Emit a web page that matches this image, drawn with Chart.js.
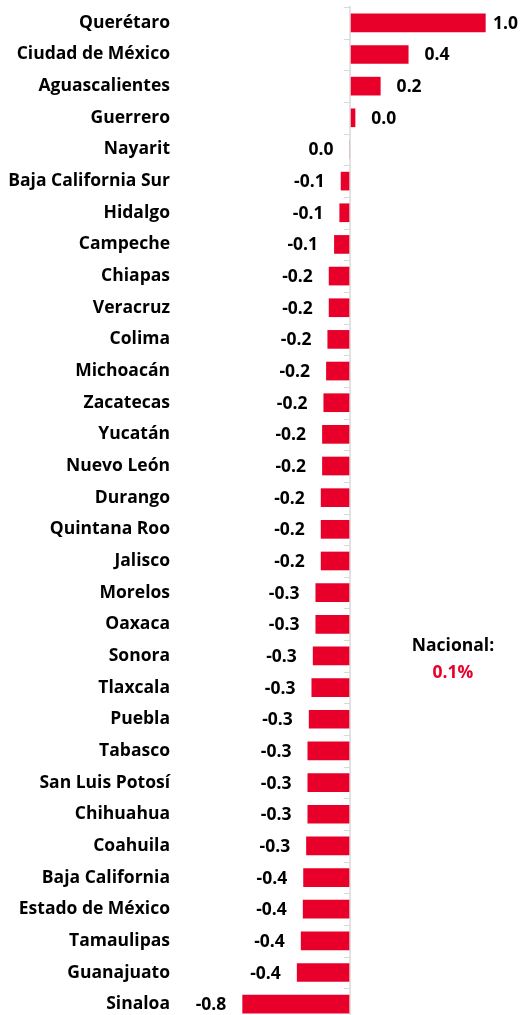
<!DOCTYPE html>
<html lang="es">
<head>
<meta charset="utf-8">
<title>Variación por entidad federativa</title>
<script src="https://cdn.jsdelivr.net/npm/chart.js@4.4.1/dist/chart.umd.min.js"></script>
<style>
  html, body { margin: 0; padding: 0; overflow: hidden; background: #fff; }
  #wrap { position: relative; width: 520px; height: 1020px; }
  #nacional {
    position: absolute; left: 393px; top: 631px; width: 120px;
    text-align: center; font: 700 17.5px "Open Sans", sans-serif; line-height: 27px; color: #000;
  }
  #nacional .val { color: #e8002b; }
</style>
</head>
<body>
<div id="wrap">
  <canvas id="chart" width="520" height="1020"></canvas>
  <div id="nacional">Nacional:<br><span class="val" id="nacVal"></span></div>
</div>
<script>
// data (labels show one decimal)
const estados = [
  'Querétaro', 'Ciudad de México', 'Aguascalientes', 'Guerrero', 'Nayarit',
  'Baja California Sur', 'Hidalgo', 'Campeche', 'Chiapas', 'Veracruz',
  'Colima', 'Michoacán', 'Zacatecas', 'Yucatán', 'Nuevo León',
  'Durango', 'Quintana Roo', 'Jalisco', 'Morelos', 'Oaxaca',
  'Sonora', 'Tlaxcala', 'Puebla', 'Tabasco', 'San Luis Potosí',
  'Chihuahua', 'Coahuila', 'Baja California', 'Estado de México', 'Tamaulipas',
  'Guanajuato', 'Sinaloa'
];
const valores = [
  1.02, 0.44, 0.23, 0.04, -0.004,
  -0.07, -0.08, -0.12, -0.16, -0.16,
  -0.17, -0.18, -0.20, -0.21, -0.21,
  -0.22, -0.22, -0.22, -0.26, -0.26,
  -0.28, -0.29, -0.31, -0.32, -0.32,
  -0.32, -0.33, -0.352, -0.355, -0.37,
  -0.40, -0.81
];
const nacional = 0.1;
const ejeMin = -0.82;
const ejeMax = 1.03;

const rojo = '#e8002b';
const gris = '#d9d9d9';
const fuente = '"Open Sans", sans-serif';

document.getElementById('nacVal').textContent = nacional.toFixed(1) + '%';

function fmt(v) {
  const s = v.toFixed(1);
  return s === '-0.0' ? '0.0' : s;
}

// zero axis line, category tick marks and value labels
const extras = {
  id: 'extras',
  afterDatasetsDraw(chart) {
    const ctx = chart.ctx;
    const area = chart.chartArea;
    const x0 = chart.scales.x.getPixelForValue(0);
    const paso = (area.bottom - area.top) / estados.length;

    ctx.save();
    ctx.strokeStyle = gris;
    ctx.lineWidth = 1.5;
    ctx.beginPath();
    ctx.moveTo(x0, area.top - 1);
    ctx.lineTo(x0, chart.height);
    ctx.stroke();
    ctx.lineWidth = 1;
    for (let i = 0; i <= estados.length; i++) {
      const y = Math.round(area.top + i * paso) + 0.5;
      ctx.beginPath();
      ctx.moveTo(x0 - 6, y);
      ctx.lineTo(x0, y);
      ctx.stroke();
    }

    ctx.font = '700 17.5px ' + fuente;
    ctx.fillStyle = '#000';
    ctx.textBaseline = 'middle';
    const meta = chart.getDatasetMeta(0);
    meta.data.forEach((bar, i) => {
      const v = valores[i];
      const txt = fmt(v);
      const w = ctx.measureText(txt).width;
      const y = bar.y + 1;
      if (v >= 0) {
        let x = bar.x + 16;
        if (x + w > chart.width - 2) x = chart.width - 2 - w;
        ctx.textAlign = 'left';
        ctx.fillText(txt, x, y);
      } else {
        ctx.textAlign = 'right';
        ctx.fillText(txt, bar.x - 16, y);
      }
    });
    ctx.restore();
  }
};

new Chart(document.getElementById('chart'), {
  type: 'bar',
  data: {
    labels: estados,
    datasets: [{
      data: valores,
      backgroundColor: rojo,
      borderWidth: 0,
      categoryPercentage: 1,
      barPercentage: 0.59
    }]
  },
  options: {
    indexAxis: 'y',
    responsive: false,
    animation: false,
    layout: { padding: { top: 7, right: 33, bottom: 0, left: 0 } },
    plugins: {
      legend: { display: false },
      tooltip: { enabled: false }
    },
    scales: {
      x: {
        display: false,
        min: ejeMin,
        max: ejeMax
      },
      y: {
        grid: { display: false, drawTicks: false },
        border: { display: false },
        ticks: {
          autoSkip: false,
          padding: 71,
          color: '#000',
          font: { family: fuente, size: 17.5, weight: '700' }
        },
        afterFit(scale) {
          scale.width = 241;
          scale.paddingTop = 0;
          scale.paddingBottom = 0;
        }
      }
    }
  },
  plugins: [extras]
});
</script>
</body>
</html>
